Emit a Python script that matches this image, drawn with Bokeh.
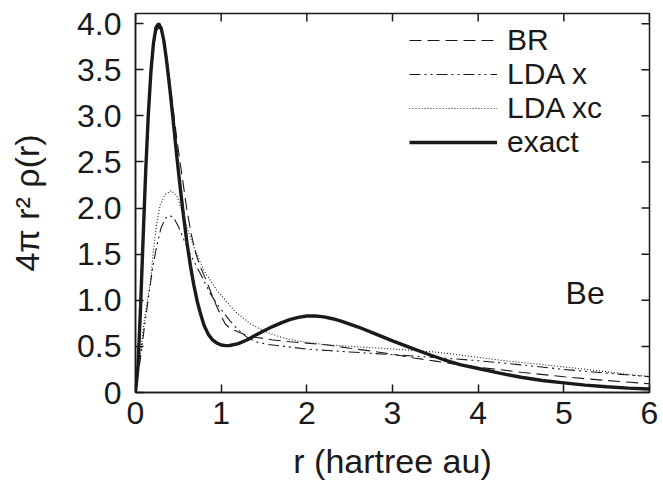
import math
from bokeh.plotting import figure
from bokeh.models import Range1d, LinearAxis, FixedTicker, Legend, LegendItem, Label
from bokeh.embed import file_html
from bokeh.resources import INLINE

# ---- data ----
r_exact = [0, 0.03, 0.06, 0.09, 0.12, 0.15, 0.18, 0.21, 0.24, 0.27, 0.30, 0.33, 0.36,
           0.40, 0.44, 0.48, 0.52, 0.56, 0.60, 0.64, 0.68, 0.72, 0.76, 0.80, 0.85,
           0.90, 0.95, 1.00, 1.05, 1.10, 1.20, 1.30, 1.40, 1.50, 1.60, 1.70, 1.80,
           1.90, 2.00, 2.10, 2.20, 2.30, 2.40, 2.60, 2.80, 3.00, 3.20, 3.40, 3.60,
           3.80, 4.00, 4.25, 4.50, 4.75, 5.00, 5.25, 5.50, 5.75, 6.00]
exact = [0, 0.30, 0.95, 1.70, 2.42, 3.02, 3.48, 3.79, 3.96, 4.00, 3.95, 3.82, 3.62,
         3.30, 2.95, 2.58, 2.24, 1.92, 1.63, 1.38, 1.17, 0.99, 0.85, 0.73, 0.63,
         0.57, 0.535, 0.515, 0.508, 0.51, 0.53, 0.57, 0.62, 0.67, 0.715, 0.755, 0.79,
         0.815, 0.83, 0.83, 0.82, 0.80, 0.775, 0.71, 0.635, 0.56, 0.49, 0.42, 0.355,
         0.30, 0.26, 0.21, 0.165, 0.13, 0.105, 0.08, 0.062, 0.048, 0.038]

r_br = [0, 0.03, 0.06, 0.09, 0.12, 0.15, 0.18, 0.21, 0.24, 0.27, 0.30, 0.33, 0.36,
        0.40, 0.44, 0.48, 0.52, 0.56, 0.60, 0.65, 0.70, 0.75, 0.80, 0.85, 0.90,
        0.95, 1.00, 1.05, 1.10, 1.20, 1.30, 1.40, 1.60, 1.80, 2.00, 2.25, 2.50,
        2.75, 3.00, 3.25, 3.50, 3.75, 4.00, 4.50, 5.00, 5.50, 6.00]
br = [0, 0.29, 0.92, 1.65, 2.36, 2.96, 3.42, 3.74, 3.91, 3.96, 3.93, 3.82, 3.66,
      3.38, 3.07, 2.77, 2.50, 2.24, 1.98, 1.72, 1.52, 1.38, 1.27, 1.16, 1.04,
      0.93, 0.83, 0.74, 0.70, 0.655, 0.62, 0.60, 0.57, 0.55, 0.535, 0.515, 0.48,
      0.45, 0.415, 0.375, 0.34, 0.305, 0.275, 0.22, 0.17, 0.13, 0.095]

r_ldax = [0, 0.05, 0.10, 0.15, 0.20, 0.25, 0.30, 0.35, 0.40, 0.45, 0.50, 0.55,
          0.60, 0.65, 0.70, 0.75, 0.80, 0.875, 0.95, 1.00, 1.10, 1.20, 1.30, 1.40,
          1.55, 1.75, 2.00, 2.25, 2.50, 3.00, 3.50, 4.00, 4.50, 5.00, 5.50, 6.00]
ldax = [0, 0.32, 0.68, 1.02, 1.35, 1.60, 1.79, 1.89, 1.92, 1.89, 1.80, 1.69,
        1.58, 1.48, 1.39, 1.30, 1.21, 1.07, 0.96, 0.90, 0.78, 0.68, 0.60, 0.55,
        0.52, 0.50, 0.47, 0.455, 0.44, 0.41, 0.38, 0.345, 0.30, 0.25, 0.21, 0.17]

r_ldaxc = [0, 0.05, 0.10, 0.14, 0.175, 0.21, 0.25, 0.29, 0.35, 0.42, 0.49, 0.54,
           0.60, 0.68, 0.80, 0.95, 1.15, 1.34, 1.54, 1.73, 1.92, 2.20, 2.51, 2.70,
           3.09, 3.48, 3.68, 4.26, 5.04, 5.50, 5.81, 6.00]
ldaxc = [0, 0.36, 0.76, 1.00, 1.20, 1.55, 1.85, 2.04, 2.15, 2.19, 2.12, 1.97,
         1.79, 1.58, 1.32, 1.11, 0.89, 0.745, 0.65, 0.59, 0.555, 0.52, 0.50, 0.49,
         0.466, 0.44, 0.42, 0.35, 0.274, 0.225, 0.19, 0.175]

series_names = ["BR", "LDA x", "LDA xc", "exact"]
x_ticks = [0, 1, 2, 3, 4, 5, 6]
x_tick_labels = ["0", "1", "2", "3", "4", "5", "6"]
y_ticks = [0, 0.5, 1.0, 1.5, 2.0, 2.5, 3.0, 3.5, 4.0]
y_tick_labels = ["0", "0.5", "1.0", "1.5", "2.0", "2.5", "3.0", "3.5", "4.0"]
x_min, x_max = 0, 6
y_min, y_max = 0, 4.11
x_title = "r (hartree au)"
y_title = "4\u03c0 r\u00b2 \u03c1(r)"
atom_label = "Be"
atom_pos = (5.02, 0.88)

FONT = "Liberation Sans"
INK = "#1a1a1a"

p = figure(frame_width=514, frame_height=379,
           x_range=Range1d(x_min, x_max), y_range=Range1d(y_min, y_max),
           output_backend="svg", toolbar_location=None,
           min_border_left=135, min_border_right=14,
           min_border_top=13, min_border_bottom=88,
           x_axis_type=None, y_axis_type=None)
p.grid.visible = False
p.outline_line_color = INK
p.outline_line_width = 1.5
p.background_fill_color = "white"
p.border_fill_color = "white"


def style_axis(ax, ticks, labels):
    ax.ticker = FixedTicker(ticks=ticks)
    ax.major_label_overrides = {t: l for t, l in zip(ticks, labels)}
    ax.major_tick_in = 8
    ax.major_tick_out = 0
    ax.minor_tick_line_color = None
    ax.major_tick_line_color = INK
    ax.major_tick_line_width = 1.5
    ax.axis_line_color = INK
    ax.axis_line_width = 1.5
    ax.major_label_text_font = FONT
    ax.major_label_text_color = INK
    ax.major_label_text_font_size = "32px"
    ax.axis_label_text_font = FONT
    ax.axis_label_text_font_size = "34px"
    ax.axis_label_text_font_style = "normal"
    ax.axis_label_text_color = INK


xb = LinearAxis(axis_label=x_title)
style_axis(xb, x_ticks, x_tick_labels)
xb.major_label_standoff = 9
xb.axis_label_standoff = 15
p.add_layout(xb, "below")

yl = LinearAxis(axis_label=y_title)
style_axis(yl, y_ticks, y_tick_labels)
yl.major_label_standoff = 14
yl.axis_label_standoff = 28
p.add_layout(yl, "left")

# mirrored inward ticks on the top and right edges of the frame
p.ray(x=[x_max] * len(y_ticks), y=y_ticks, length=8, length_units="screen",
      angle=math.pi, line_color=INK, line_width=1.5)
p.ray(x=x_ticks, y=[y_max] * len(x_ticks), length=8, length_units="screen",
      angle=-math.pi / 2, line_color=INK, line_width=1.5)

l_br = p.line(r_br, br, line_color=INK, line_width=1.1, line_dash="12 6")
l_ldax = p.line(r_ldax, ldax, line_color=INK, line_width=1.1, line_dash="11 4 2 4 2 4")
l_ldaxc = p.line(r_ldaxc, ldaxc, line_color=INK, line_width=1.1, line_dash="1 2")
l_exact = p.line(r_exact, exact, line_color=INK, line_width=3.4)

legend = Legend(items=[LegendItem(label=n, renderers=[rr]) for n, rr in
                       zip(series_names, [l_br, l_ldax, l_ldaxc, l_exact])],
                location=(270, 229),
                border_line_alpha=0, background_fill_alpha=0,
                label_text_font=FONT, label_text_font_size="30px",
                label_text_color=INK,
                glyph_width=88, glyph_height=30, label_height=30,
                label_standoff=10, spacing=0, padding=4, margin=0)
p.add_layout(legend)

p.add_layout(Label(x=atom_pos[0], y=atom_pos[1], text=atom_label, text_font=FONT,
                   text_font_size="32px", text_color=INK))

open("out.html", "w").write(file_html(p, INLINE))
